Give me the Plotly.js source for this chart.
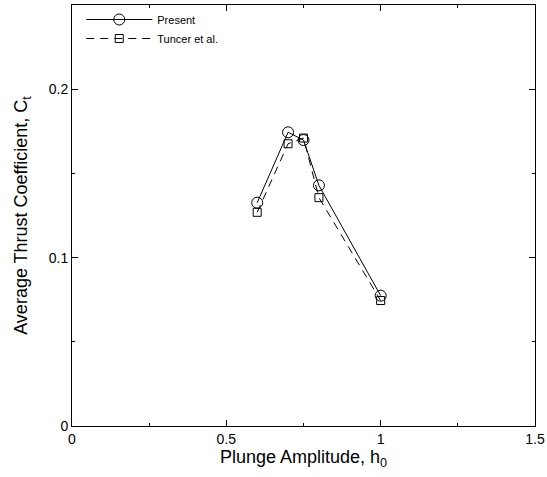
<!DOCTYPE html>
<html><head><meta charset="utf-8">
<script src="https://cdn.plot.ly/plotly-3.0.1.min.js"></script>
<style>body{margin:0;background:#fff}#chart{width:547px;height:477px}</style>
</head><body><div id="chart"></div>
<script>
const seriesNames = ["Present", "Tuncer et al."];
const h0Present = [0.6, 0.7, 0.75, 0.8, 1.0];
const ctPresent = [0.1326, 0.1744, 0.1698, 0.1429, 0.0774];
const h0Tuncer = [0.6, 0.7, 0.75, 0.8, 1.0];
const ctTuncer = [0.1269, 0.1676, 0.1710, 0.1356, 0.0745];
const xTickVals = [0, 0.5, 1, 1.5];
const xTickText = ["0", "0.5", "1", "1.5"];
const yTickVals = [0, 0.1, 0.2];
const yTickText = ["0", "0.1", "0.2"];

const font = "Liberation Sans, Arial, sans-serif";
const traces = [
  {x: h0Present, y: ctPresent, name: seriesNames[0], type: "scatter", mode: "lines+markers",
   line: {color: "#000", width: 1},
   marker: {symbol: "circle-open", size: 11, color: "#000", line: {width: 1}}},
  {x: h0Tuncer, y: ctTuncer, name: seriesNames[1], type: "scatter", mode: "lines+markers",
   line: {color: "#000", width: 1, dash: "8px,6px"},
   marker: {symbol: "square-open", size: 8, color: "#000", line: {width: 1}}}
];
const axisCommon = {
  showgrid: false, zeroline: false, showline: true, linecolor: "#000", linewidth: 1,
  mirror: "allticks", ticks: "inside", ticklen: 6, tickcolor: "#000",
  tickfont: {family: font, size: 14, color: "#000"}
};
const layout = {
  width: 547, height: 477,
  margin: {l: 72, r: 12, t: 5, b: 51},
  paper_bgcolor: "#fff", plot_bgcolor: "#fff",
  showlegend: true,
  legend: {x: 0.02, y: 1.0, xanchor: "left", yanchor: "top", bgcolor: "rgba(0,0,0,0)",
    font: {family: font, size: 11, color: "#000"}, tracegroupgap: 0, itemwidth: 66},
  xaxis: Object.assign({}, axisCommon, {
    range: [0, 1.5], tickmode: "array", tickvals: xTickVals, ticktext: xTickText,
    minor: {ticks: "inside", ticklen: 3, tickcolor: "#000", tickmode: "array", tickvals: [0.25, 0.75, 1.25]},
    title: {text: "Plunge Amplitude, h<sub>0</sub>", font: {family: font, size: 18, color: "#000"}, standoff: 2}
  }),
  yaxis: Object.assign({}, axisCommon, {
    range: [0, 0.25], tickmode: "array", tickvals: yTickVals, ticktext: yTickText,
    minor: {ticks: "inside", ticklen: 3, tickcolor: "#000", tickmode: "array", tickvals: [0.05, 0.15]},
    title: {text: "Average Thrust Coefficient, C<sub>t</sub>", font: {family: font, size: 18, color: "#000"}, standoff: 16}
  })
};
Plotly.newPlot("chart", traces, layout, {displayModeBar: false, staticPlot: true});
</script></body></html>
